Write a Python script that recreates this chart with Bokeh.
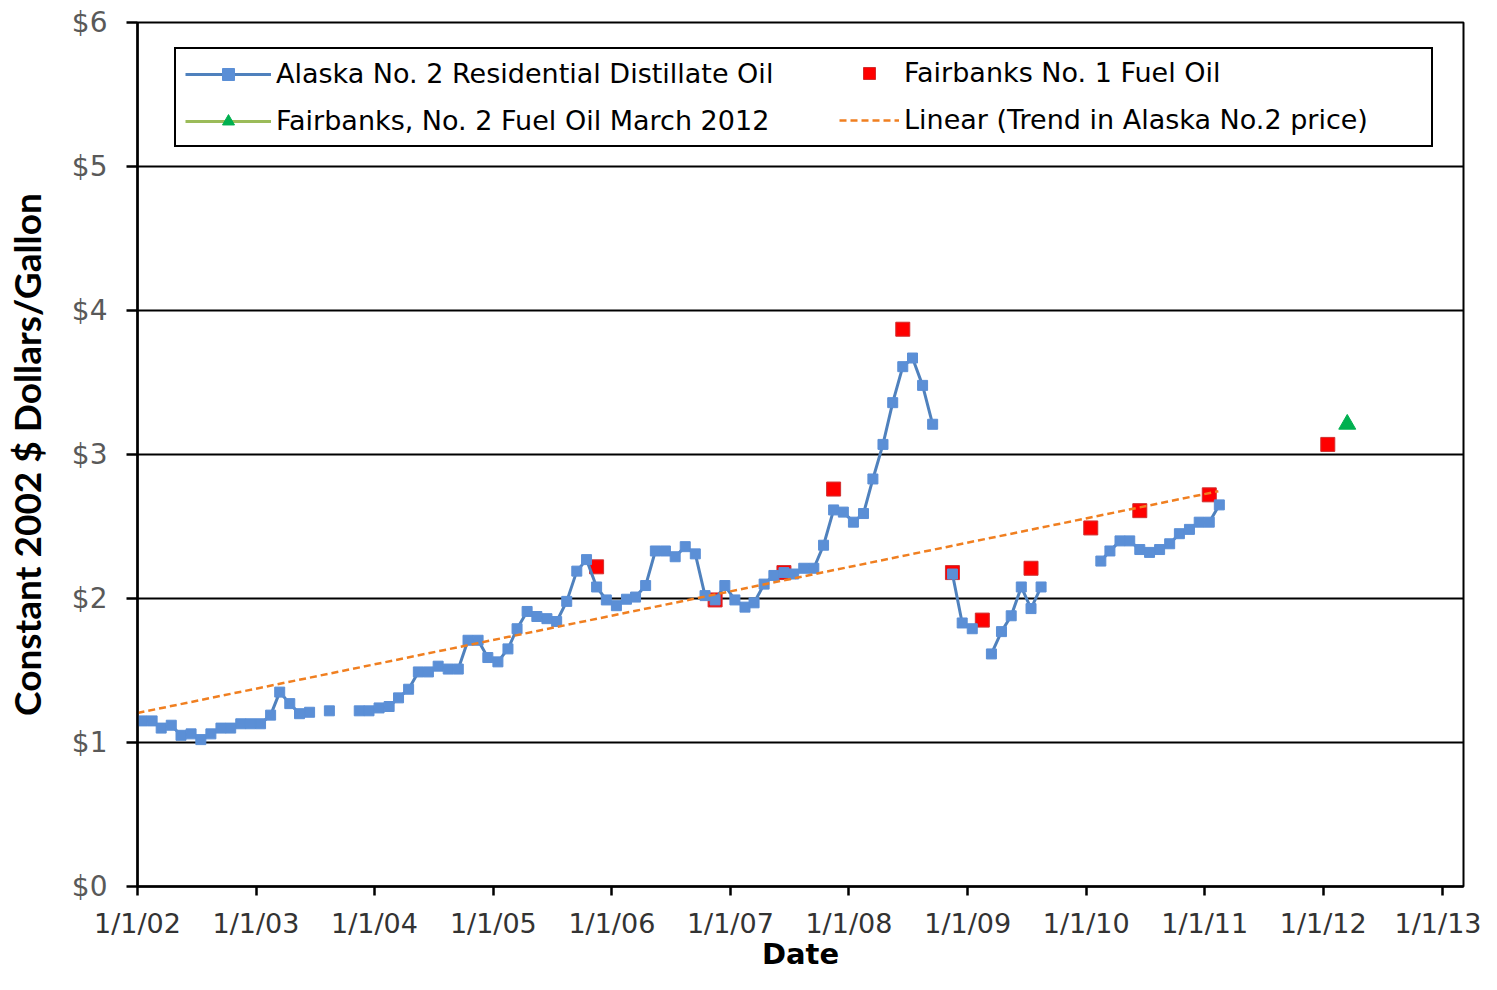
import numpy as np
import pandas as pd
from bokeh.plotting import figure
from bokeh.models import (FixedTicker, PrintfTickFormatter, Legend, LegendItem,
                          ColumnDataSource, Range1d)
from bokeh.embed import file_html
from bokeh.resources import INLINE

# ---------------- data ----------------
# Alaska No. 2 residential distillate oil, monthly from Jan 2002 (None = no data)
alaska_no2 = [
    1.15, 1.15, 1.10, 1.12, 1.05, 1.06, 1.02, 1.06, 1.10, 1.10, 1.13, 1.13,   # 2002
    1.13, 1.19, 1.35, 1.27, 1.20, 1.21, None, 1.22, None, None, 1.22, 1.22,   # 2003
    1.24, 1.25, 1.31, 1.37, 1.49, 1.49, 1.53, 1.51, 1.51, 1.71, 1.71, 1.59,   # 2004
    1.56, 1.65, 1.79, 1.91, 1.875, 1.86, 1.84, 1.98, 2.19, 2.27, 2.08, 1.99,  # 2005
    1.95, 1.995, 2.01, 2.09, 2.33, 2.33, 2.29, 2.36, 2.31, 2.02, 1.99, 2.09,  # 2006
    1.99, 1.94, 1.97, 2.10, 2.16, 2.18, 2.17, 2.21, 2.21, 2.37, 2.615, 2.60,  # 2007
    2.53, 2.59, 2.83, 3.07, 3.36, 3.61, 3.67, 3.48, 3.21, None, 2.17, 1.83,   # 2008
    1.79, None, 1.615, 1.77, 1.88, 2.08, 1.93, 2.08, None, None, None, None,  # 2009
    None, 2.26, 2.33, 2.40, 2.40, 2.34, 2.32, 2.34, 2.38, 2.45, 2.48, 2.53,   # 2010
    2.53, 2.65,                                                               # 2011
]
alaska_start = "2002-01-15"

fairbanks_no1_dates = ["2005-11-15", "2006-11-15", "2007-06-15", "2007-11-15",
                       "2008-06-15", "2008-11-15", "2009-02-15", "2009-07-15",
                       "2010-01-15", "2010-06-15", "2011-01-15", "2012-01-15"]
fairbanks_no1_vals = [2.22, 1.99, 2.18, 2.76, 3.87, 2.18, 1.85, 2.21, 2.49, 2.61, 2.72, 3.07]

fairbanks_no2_dates = ["2012-03-15"]
fairbanks_no2_vals = [3.21]

# linear trend in Alaska No.2 price (end points)
trend_dates = ["2002-01-01", "2011-02-12"]
trend_vals = [1.205, 2.745]

tick_years = list(range(2002, 2014))
y_ticks = [0, 1, 2, 3, 4, 5, 6]
x_start = "2002-01-01"
x_end = "2013-03-08"

# ---------------- sources ----------------
al_dates = pd.date_range(alaska_start, periods=len(alaska_no2),
                         freq=pd.DateOffset(months=1))
al_vals = np.array([np.nan if v is None else v for v in alaska_no2], dtype=float)
al_src = ColumnDataSource(dict(x=al_dates, y=al_vals))
trend_src = ColumnDataSource(dict(x=pd.to_datetime(trend_dates), y=trend_vals))
fb1_src = ColumnDataSource(dict(x=pd.to_datetime(fairbanks_no1_dates), y=fairbanks_no1_vals))
fb2_src = ColumnDataSource(dict(x=pd.to_datetime(fairbanks_no2_dates), y=fairbanks_no2_vals))


def ms(ts):
    return pd.Timestamp(ts).value / 1e6


# ---------------- figure ----------------
p = figure(width=1481, height=974, x_axis_type="datetime",
           output_backend="svg", toolbar_location=None,
           x_range=Range1d(ms(x_start), ms(x_end)), y_range=Range1d(0, 6),
           min_border_left=137, min_border_right=18, min_border_top=22,
           min_border_bottom=88)
p.background_fill_color = "white"
p.border_fill_color = "white"
p.outline_line_color = "black"
p.outline_line_width = 2

# renderers
r_fb1 = p.scatter("x", "y", source=fb1_src, marker="square", size=14,
                  fill_color="#FF0000", line_color="#D03030", line_width=1)
r_line = p.line("x", "y", source=al_src, line_color="#4F81BD", line_width=3)
r_sq = p.scatter("x", "y", source=al_src, marker="square", size=10,
                 fill_color="#5B8FD6", line_color="#5B8FD6")
r_trend = p.line("x", "y", source=trend_src, line_color="#F07F20",
                 line_width=2.5, line_dash="7 4")
r_fb2_line = p.line("x", "y", source=fb2_src, line_color="#9BBB59", line_width=3)
r_fb2 = p.scatter("x", "y", source=fb2_src, marker="triangle", size=17,
                  fill_color="#00B050", line_color="#00B050")

# axes
tick_ms = [ms(f"{y}-01-01") for y in tick_years]
p.xaxis.ticker = FixedTicker(ticks=tick_ms)
p.xaxis.major_label_overrides = {t: f"1/1/{y % 100:02d}" for t, y in zip(tick_ms, tick_years)}
p.yaxis.ticker = FixedTicker(ticks=y_ticks)
p.yaxis.formatter = PrintfTickFormatter(format="$%d")

for ax in (p.xaxis[0], p.yaxis[0]):
    ax.axis_line_color = "black"
    ax.axis_line_width = 2.5
    ax.major_tick_line_color = "black"
    ax.major_tick_line_width = 2.5
    ax.major_tick_in = 0
    ax.minor_tick_line_color = None
    ax.major_label_text_font = "DejaVu Sans"
    ax.axis_label_text_font_style = "bold"
    ax.axis_label_text_color = "black"

p.xaxis.major_tick_out = 9
p.xaxis.major_label_standoff = 12
p.xaxis.major_label_text_font_size = "27px"
p.xaxis.major_label_text_color = "#333333"
p.xaxis.axis_label = "Date"
p.xaxis.axis_label_text_font = "DejaVu Sans"
p.xaxis.axis_label_text_font_size = "29px"
p.xaxis.axis_label_standoff = -5

p.yaxis.major_tick_out = 11
p.yaxis.major_label_standoff = 19
p.yaxis.major_label_text_font_size = "28px"
p.yaxis.major_label_text_color = "#595959"
p.yaxis.axis_label = "Constant 2002 $ Dollars/Gallon"
p.yaxis.axis_label_text_font = "Lato"
p.yaxis.axis_label_text_font_size = "37px"
p.yaxis.axis_label_standoff = 20

p.xgrid.visible = False
p.ygrid.ticker = FixedTicker(ticks=y_ticks)
p.ygrid.grid_line_color = "black"
p.ygrid.grid_line_width = 2

# legend: left column carries the frame, right column is laid over it
common = dict(label_text_font="DejaVu Sans", label_text_font_size="27px",
              label_text_color="black", glyph_height=30, label_height=30,
              label_standoff=5, spacing=16, padding=9, margin=0)
legend_left = Legend(
    items=[LegendItem(label="Alaska No. 2 Residential Distillate Oil", renderers=[r_line, r_sq]),
           LegendItem(label="Fairbanks, No. 2 Fuel Oil March 2012", renderers=[r_fb2_line, r_fb2])],
    location=(37, 739), border_line_color="black", border_line_width=2,
    border_line_alpha=1.0,
    background_fill_color="white", background_fill_alpha=1,
    glyph_width=86, label_width=1146, **common)
legend_right = Legend(
    items=[LegendItem(label="Fairbanks No. 1 Fuel Oil", renderers=[r_fb1]),
           LegendItem(label="Linear (Trend in Alaska No.2 price)", renderers=[r_trend])],
    location=(702, 751), border_line_color=None, background_fill_alpha=0,
    glyph_width=60, **common)
p.add_layout(legend_left)
p.add_layout(legend_right)

open("out.html", "w").write(file_html(p, INLINE))
